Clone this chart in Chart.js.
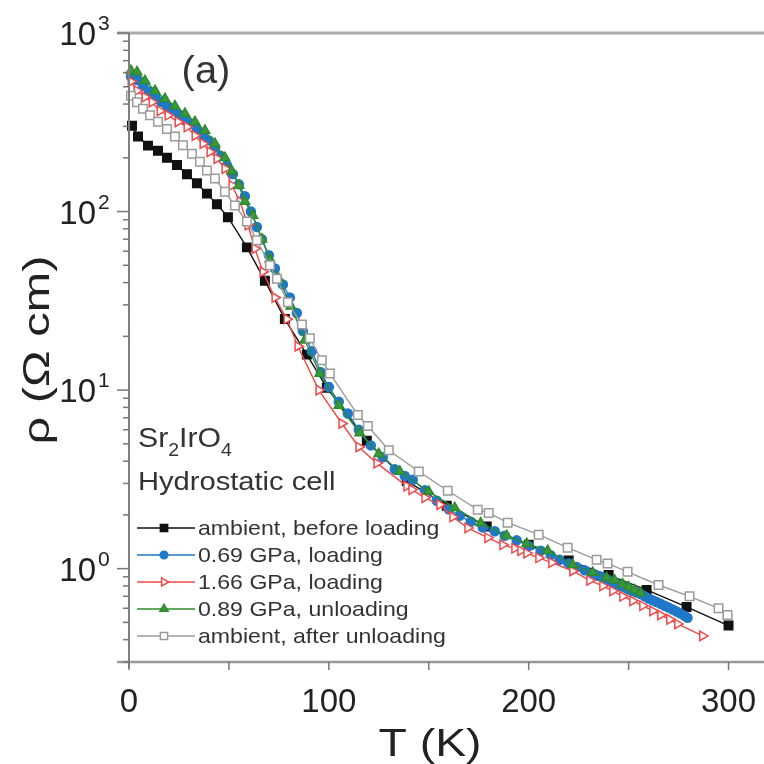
<!DOCTYPE html>
<html>
<head>
<meta charset="utf-8">
<script src="https://cdn.jsdelivr.net/npm/chart.js@4.4.1/dist/chart.umd.min.js"></script>
<style>
  html, body { margin: 0; padding: 0; background: #fff; }
  #wrap { width: 764px; height: 764px; }
</style>
</head>
<body>
<div id="wrap"><canvas id="rhoChart" width="764" height="764"></canvas></div>
<script>
// ambient, before loading
const tBefore = [1.5, 4.5, 9.5, 14.5, 19, 24, 29, 34, 39, 44, 49.5, 59, 68, 78, 89, 99, 119, 139, 159, 179, 200, 220, 240, 259, 279, 300];
const rhoBefore = [302, 263, 234, 219, 200, 182, 162, 144, 126, 110, 93, 63, 41, 25, 15.8, 10.3, 5.2, 3.1, 2.25, 1.72, 1.36, 1.11, 0.92, 0.76, 0.61, 0.48];

// 0.69 GPa, loading
const tLoad069 = [1, 4, 7, 10, 13, 16, 19, 22, 25, 28, 31, 34, 37, 40, 43, 46, 49, 52, 55, 58, 61, 64, 66.5, 70, 73, 77, 80.5, 84, 87, 91.5, 96, 100, 105, 109.5, 115, 121, 127, 133, 138, 142, 148, 154, 160, 165.5, 171, 177, 183, 188, 194, 200, 206, 211, 215.5, 220, 224, 228, 232, 235, 238, 240, 242, 244, 246, 248, 250, 252, 254, 256, 258, 260, 262, 264, 266, 268, 270, 272, 274, 276, 278, 279.5];
const rhoLoad069 = [570, 545, 505, 470, 440, 412, 390, 368, 350, 330, 310, 290, 270, 250, 228, 205, 182, 162, 142, 122, 100, 82, 70, 57, 48, 39, 33, 27, 21.4, 16.5, 12.6, 10.4, 8.6, 7.4, 6.0, 4.9, 4.2, 3.6, 3.3, 3.15, 2.75, 2.4, 2.15, 1.98, 1.83, 1.7, 1.62, 1.53, 1.44, 1.34, 1.26, 1.19, 1.12, 1.07, 1.02, 0.98, 0.94, 0.91, 0.885, 0.86, 0.84, 0.82, 0.8, 0.785, 0.765, 0.75, 0.735, 0.72, 0.7, 0.68, 0.665, 0.65, 0.635, 0.62, 0.605, 0.59, 0.575, 0.56, 0.545, 0.53];

// 1.66 GPa, loading
const tLoad166 = [1, 4, 8, 11.5, 15.5, 19.5, 24.5, 29, 33, 37, 40.5, 44, 48, 51.5, 55.5, 59.5, 63, 67, 73, 79, 84.5, 95, 106.5, 115, 124, 139, 141.5, 148, 155.5, 162, 169.5, 179.5, 187, 193, 196, 199, 205, 211.5, 222, 230.5, 237, 242, 247, 252, 257, 262, 266, 270.5, 274.5, 287];
const rhoLoad166 = [535, 475, 438, 410, 366, 346, 318, 298, 266, 240, 216, 198, 174, 140, 114, 84, 62, 46, 33, 25, 17.6, 10, 6.5, 4.8, 3.9, 2.9, 2.77, 2.5, 2.28, 1.95, 1.69, 1.49, 1.36, 1.3, 1.26, 1.22, 1.15, 1.08, 0.97, 0.86, 0.8, 0.75, 0.7, 0.66, 0.62, 0.58, 0.55, 0.52, 0.49, 0.42];

// 0.89 GPa, unloading
const tUnload089 = [1, 4, 8, 13, 18, 23, 28, 33, 38, 43, 48, 51.5, 55, 58, 62, 66.5, 70.5, 75, 81, 88, 95.5, 105, 115.5, 125, 135.5, 150, 163, 176, 189, 199, 209.5, 222, 232, 239, 243, 247, 250, 253, 256];
const rhoUnload089 = [615, 605, 540, 475, 428, 390, 354, 318, 284, 240, 200, 168, 140, 114, 95, 70, 54, 42, 29.5, 19, 12.4, 8.2, 5.75, 4.4, 3.5, 2.7, 2.19, 1.8, 1.53, 1.38, 1.26, 1.05, 0.95, 0.89, 0.86, 0.82, 0.79, 0.76, 0.73];

// ambient, after unloading
const tAfter = [1, 4, 7, 10.5, 14.5, 19, 23, 27, 31.5, 35.5, 39, 43, 48, 53, 59, 64, 70.5, 74, 79.5, 86.5, 90.5, 96.5, 100.5, 114.5, 119.5, 130, 145, 159.5, 174.5, 180, 189.5, 205, 219.5, 234, 239.5, 249.5, 265, 280.5, 295, 299.5];
const rhoAfter = [445, 410, 376, 346, 318, 290, 263, 235, 211, 190, 170, 153, 129, 108, 88, 69, 50, 42, 31, 23.3, 19.5, 14.7, 12.4, 7.25, 6.3, 4.6, 3.5, 2.73, 2.14, 2.05, 1.81, 1.55, 1.31, 1.12, 1.07, 0.96, 0.81, 0.7, 0.6, 0.55];

const seriesNames = ['ambient, before loading', '0.69 GPa, loading', '1.66 GPa, loading', '0.89 GPa, unloading', 'ambient, after unloading'];
const xTickLabels = [0, 100, 200, 300];
const xMinorTicks = [50, 150, 250];
const yDecadeExponents = [0, 1, 2, 3];

const FONT = "'Liberation Sans', Arial, sans-serif";

function pts(ts, vs) {
    return ts.map((t, i) => ({ x: t, y: vs[i] }));
}

const datasets = [
    { label: seriesNames[0], data: pts(tBefore, rhoBefore), borderColor: '#111', backgroundColor: '#111',
      pointStyle: 'rect', pointRadius: 6, order: 5 },
    { label: seriesNames[1], data: pts(tLoad069, rhoLoad069), borderColor: '#1f78c8', backgroundColor: '#1f78c8',
      pointStyle: 'circle', pointRadius: 4.5, order: 4 },
    { label: seriesNames[2], data: pts(tLoad166, rhoLoad166), borderColor: '#f04848', backgroundColor: '#fff',
      pointStyle: 'triangle', pointRotation: 90, pointRadius: 5.5, order: 3 },
    { label: seriesNames[3], data: pts(tUnload089, rhoUnload089), borderColor: '#2e8b2e', backgroundColor: '#3a9a3a',
      pointStyle: 'triangle', pointRadius: 5.5, order: 2 },
    { label: seriesNames[4], data: pts(tAfter, rhoAfter), borderColor: '#9a9a9a', backgroundColor: '#fff',
      pointStyle: 'rect', pointRadius: 6, order: 1 }
];
datasets.forEach(d => {
    d.borderWidth = 1.4;
    d.pointBorderWidth = 1.5;
    d.pointBorderColor = d.borderColor;
    d.pointBackgroundColor = d.backgroundColor;
    d.showLine = true;
    d.tension = 0;
    d.clip = false;
});

function stretchText(ctx, s, x, y, size, align, sx) {
    ctx.save();
    ctx.font = size + 'px ' + FONT;
    ctx.textAlign = align;
    ctx.translate(x, y);
    ctx.scale(sx, 1);
    ctx.fillText(s, 0, 0);
    ctx.restore();
}

// axes, labels, annotations and legend
const decorations = {
    id: 'decorations',
    afterDatasetsDraw(chart) {
        const ctx = chart.ctx;
        const xs = chart.scales.x, ys = chart.scales.y;
        const area = chart.chartArea;
        ctx.save();

        // frame
        ctx.lineCap = 'butt';
        ctx.strokeStyle = '#aaa';
        ctx.lineWidth = 3;
        ctx.beginPath(); ctx.moveTo(117, area.top); ctx.lineTo(764, area.top); ctx.stroke();
        ctx.strokeStyle = '#999';
        ctx.lineWidth = 2.5;
        ctx.beginPath(); ctx.moveTo(117, area.bottom); ctx.lineTo(764, area.bottom); ctx.stroke();
        ctx.strokeStyle = '#808080';
        ctx.lineWidth = 2;
        ctx.beginPath(); ctx.moveTo(area.left, area.top); ctx.lineTo(area.left, area.bottom + 6); ctx.stroke();

        // y ticks
        ctx.lineWidth = 1.5;
        ctx.strokeStyle = '#777';
        for (let e = -1; e <= 3; e++) {
            for (let m = 1; m <= 9; m++) {
                const v = m * Math.pow(10, e);
                if (v < ys.min || v > ys.max) continue;
                const py = ys.getPixelForValue(v);
                const len = m === 1 ? 12 : 6;
                ctx.beginPath(); ctx.moveTo(area.left - len, py); ctx.lineTo(area.left, py); ctx.stroke();
            }
        }
        // x ticks
        xTickLabels.concat(xMinorTicks).forEach(v => {
            const px = xs.getPixelForValue(v);
            ctx.beginPath(); ctx.moveTo(px, area.bottom); ctx.lineTo(px, area.bottom + 8); ctx.stroke();
        });

        ctx.fillStyle = '#222';
        ctx.textBaseline = 'alphabetic';
        // y tick labels 10^n
        yDecadeExponents.forEach(n => {
            const py = ys.getPixelForValue(Math.pow(10, n));
            stretchText(ctx, '10', 96, py + 12, 33, 'right', 1.0);
            stretchText(ctx, String(n), 98, py - 3, 21, 'left', 1.0);
        });
        // x tick labels
        xTickLabels.forEach(v => {
            stretchText(ctx, String(v), xs.getPixelForValue(v), 712, 33, 'center', 1.0);
        });

        // axis titles
        stretchText(ctx, 'T (K)', 430, 756, 38, 'center', 1.22);
        ctx.save();
        ctx.translate(49, 350);
        ctx.rotate(-Math.PI / 2);
        stretchText(ctx, 'ρ (Ω cm)', 0, 0, 37, 'center', 1.32);
        ctx.restore();

        // panel label and sample
        ctx.fillStyle = '#333';
        stretchText(ctx, '(a)', 206, 83, 38, 'center', 1.05);
        let x = 138;
        const base = 447;
        ctx.save();
        ctx.translate(x, 0);
        ctx.scale(1.08, 1);
        x = 0;
        [['Sr', 28, 0], ['2', 18, 9], ['IrO', 28, 0], ['4', 18, 9]].forEach(([s, size, dy]) => {
            ctx.font = size + 'px ' + FONT;
            ctx.textAlign = 'left';
            ctx.fillText(s, x, base + dy);
            x += ctx.measureText(s).width;
        });
        ctx.restore();
        stretchText(ctx, 'Hydrostatic cell', 138, 490, 26, 'left', 1.12);

        // legend
        const rowY = [528, 555, 582, 609, 636];
        datasets.forEach((d, r) => {
            const y = rowY[r];
            ctx.strokeStyle = d.borderColor;
            ctx.lineWidth = 1.6;
            ctx.beginPath(); ctx.moveTo(137, y); ctx.lineTo(195, y); ctx.stroke();
            ctx.fillStyle = d.backgroundColor;
            ctx.lineWidth = 1.5;
            Chart.helpers.drawPoint(ctx, {
                pointStyle: d.pointStyle, radius: d.pointRadius * 0.85,
                rotation: d.pointRotation || 0, borderWidth: 1.5
            }, 164, y);
            ctx.fillStyle = '#333';
            ctx.textBaseline = 'middle';
            stretchText(ctx, d.label, 198, y + 1, 21, 'left', 1.1);
            ctx.textBaseline = 'alphabetic';
        });

        ctx.restore();
    }
};

new Chart(document.getElementById('rhoChart').getContext('2d'), {
    type: 'line',
    data: { datasets: datasets },
    options: {
        responsive: false,
        animation: false,
        events: [],
        layout: { padding: { left: 129, top: 33, right: 0, bottom: 102 } },
        plugins: { legend: { display: false }, tooltip: { enabled: false } },
        scales: {
            x: { type: 'linear', min: 0, max: 314, display: false },
            y: { type: 'logarithmic', min: 0.31, max: 1000, display: false }
        }
    },
    plugins: [decorations]
});
</script>
</body>
</html>
